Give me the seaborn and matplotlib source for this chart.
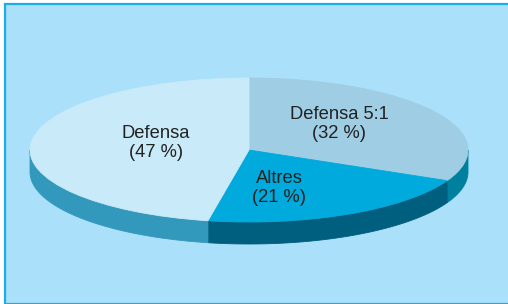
import numpy as np

import matplotlib
matplotlib.use("Agg")

import matplotlib.pyplot as plt

import seaborn as sns

from matplotlib.patches import Rectangle


# ==========================
# DATA
# ==========================

labels = ["Defensa 5:1", "Altres", "Defensa"]

shares = [32, 21, 47]

top_colors = ["#9FCDE3", "#00AADC", "#C8EAF9"]

side_colors = ["#00809F", "#005E7F", "#3399BC"]


# ==========================
# LAYOUT (pixels)
# ==========================

W, H = 508, 304

cx, cy = 249, 150

rx, ry = 219, 72

depth = 22

bg = "#AAE0FA"


sns.set_style("white")

plt.rcParams["font.family"] = ["Liberation Sans", "DejaVu Sans"]

fig = plt.figure(
    figsize=(W / 100, H / 100),
    dpi=100
)

fig.patch.set_facecolor("white")

ax = fig.add_axes([0, 0, 1, 1])

ax.set_facecolor("none")

# panel background with frame
panel = Rectangle(
    (5 / W, 0.5 / H),
    1.2,
    (H - 4.5) / H,
    transform=fig.transFigure,
    facecolor=bg,
    edgecolor="#1AAEE6",
    linewidth=1.6,
    clip_on=False,
    zorder=0
)

ax.add_patch(panel)

# ==========================
# SIDES (front half only)
# ==========================

d = depth / ry

fracs = np.array(shares) / sum(shares)

start = 90.0

for frac, col in zip(fracs, side_colors):

    a1 = start

    a0 = start - frac * 360

    start = a0

    lo = max(a0, -180)

    hi = min(a1, 0)

    if lo >= hi:
        continue

    th = np.radians(np.linspace(lo, hi, 80))

    xs = np.concatenate([np.cos(th), np.cos(th[::-1])])

    ys = np.concatenate([np.sin(th), np.sin(th[::-1]) - d])

    ax.fill(xs, ys, color=col, linewidth=0.6, edgecolor=col, zorder=1)

# ==========================
# TOP FACE
# ==========================

wedges, _ = ax.pie(
    shares,
    colors=top_colors,
    startangle=90,
    counterclock=False,
    radius=1,
    wedgeprops=dict(linewidth=0.6),
    frame=True
)

for w, col in zip(wedges, top_colors):
    w.set_edgecolor(col)
    w.set_zorder(2)

# 1 unit = rx px horizontally, ry px vertically
ax.set_aspect("auto")

ax.set_xlim(-cx / rx, (W - cx) / rx)

ax.set_ylim(-(H - cy) / ry, cy / ry)

ax.axis("off")

# ==========================
# LABELS
# ==========================

label_pos = [(339, 124), (279, 188), (156, 143)]

for name, val, (px, py) in zip(labels, shares, label_pos):

    ax.text(
        px / W,
        1 - py / H,
        f"{name}\n({val} %)",
        transform=ax.transAxes,
        ha="center",
        va="center",
        fontsize=13.2,
        color="#222222",
        linespacing=1.15,
        zorder=5
    )

plt.savefig("out.png", dpi=100, facecolor=fig.get_facecolor())

plt.close()
